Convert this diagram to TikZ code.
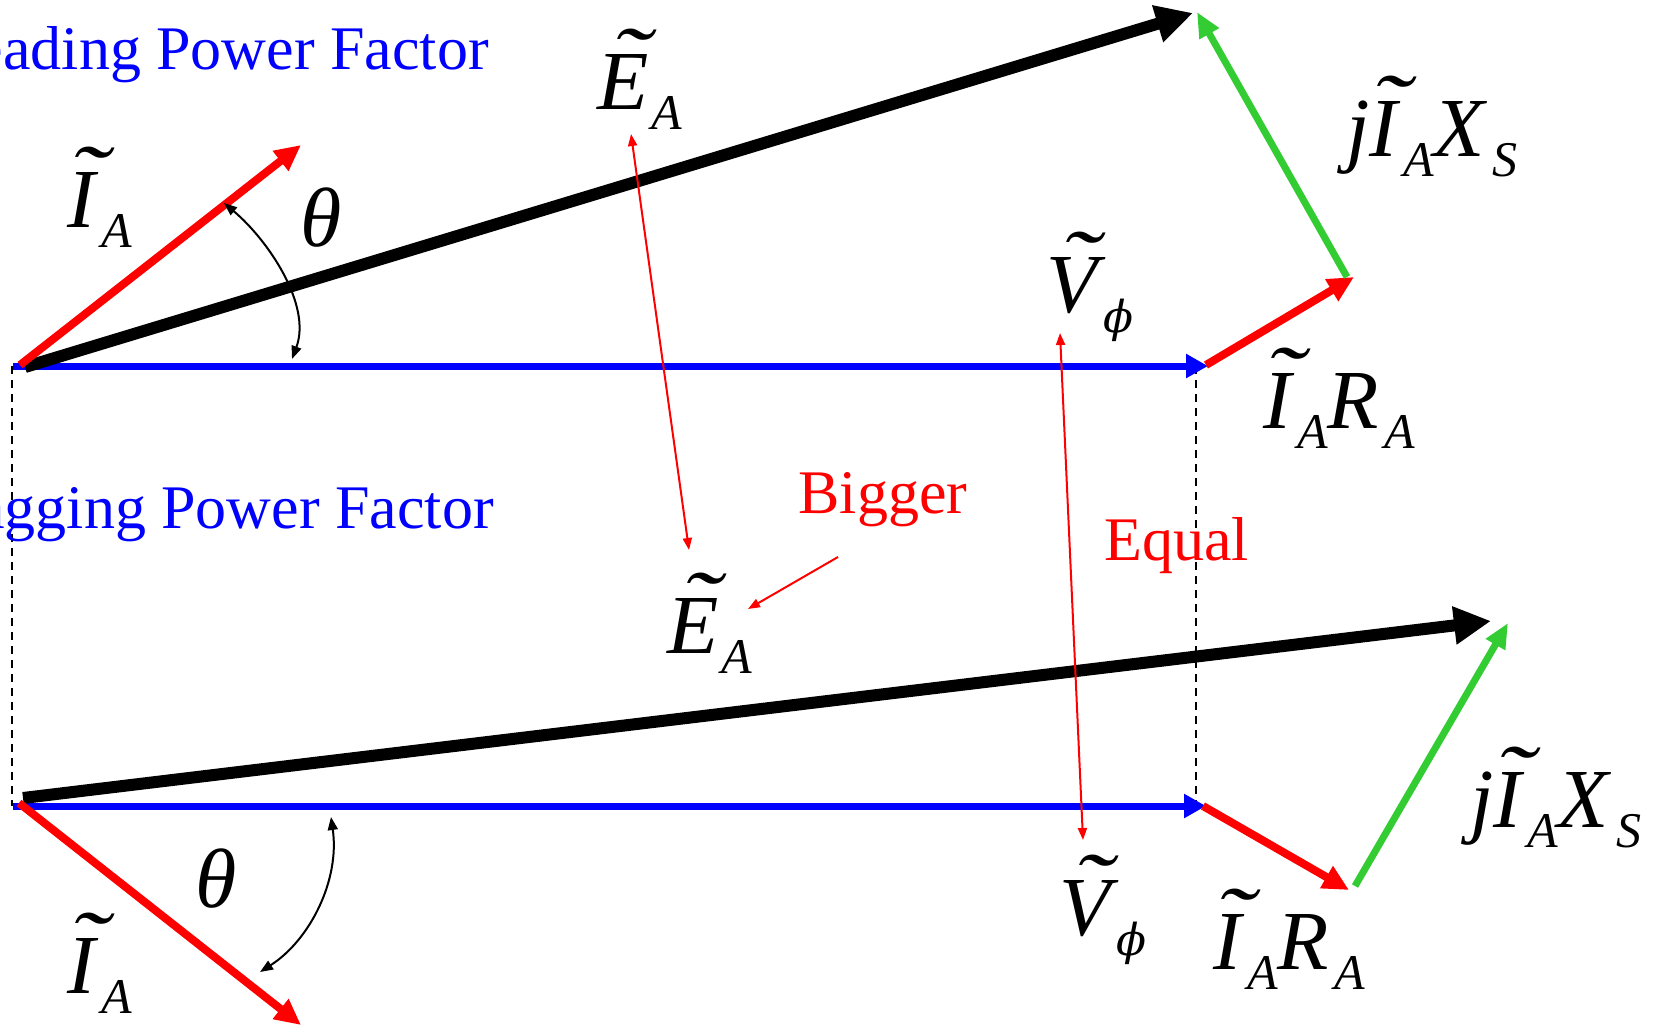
\documentclass[tikz,border=0pt]{standalone}
\usepackage{fontspec}
\usepackage{graphicx}
\setmainfont{Liberation Serif}
\newfontfamily\phifont{DejaVu Serif}
\usetikzlibrary{arrows.meta}
\definecolor{vblue}{RGB}{0,0,255}
\definecolor{vred}{RGB}{255,0,0}
\definecolor{vgreen}{RGB}{51,204,51}
\newcommand\tld[1]{\ooalign{#1\cr\hidewidth\kern0.16em\raisebox{0.25em}{\scalebox{1.4}[1.05]{\char"02DC}}\hidewidth\cr}}
\newcommand\sbs[1]{\kern0.07em\raisebox{-0.24em}{\fontsize{50}{50}\selectfont #1}}
\tikzset{
  mathlbl/.style={inner sep=0pt, anchor=base west, font=\fontsize{84}{84}\selectfont\itshape},
  txtlbl/.style={inner sep=0pt, font=\fontsize{62}{62}\selectfont},
  vvec/.style={draw=vblue, line width=7pt, -{Triangle[length=22pt,width=23pt]}},
  evec/.style={draw=black, line width=12pt, -{Triangle[length=37pt,width=36pt]}},
  ivec/.style={draw=vred, line width=8pt, -{Triangle[length=26pt,width=24pt]}},
  xvec/.style={draw=vgreen, line width=7pt, -{Triangle[length=25pt,width=21pt]}},
  note/.style={draw=vred, line width=2pt, {Triangle[length=12pt,width=9pt]}-{Triangle[length=12pt,width=9pt]}},
  noteone/.style={draw=vred, line width=2pt, -{Triangle[length=12pt,width=9pt]}},
  angarc/.style={draw=black, line width=2pt, {Triangle[length=13pt,width=10pt]}-{Triangle[length=13pt,width=10pt]}},
  proj/.style={draw=black, line width=2pt, dash pattern=on 8pt off 6pt}
}
\begin{document}
\begin{tikzpicture}[x=1pt,y=-1pt]
\useasboundingbox (0,0) rectangle (1657,1026);
% ---------- upper (leading) diagram ----------
\coordinate (O1) at (13,366);
\coordinate (V1) at (1208,366);
\coordinate (E1s) at (25,367);
\coordinate (E1) at (1193,13);
\coordinate (I1s) at (20,365);
\coordinate (I1) at (301,145);
\coordinate (R1s) at (1206,365);
\coordinate (R1) at (1354,277);
\coordinate (X1s) at (1347,277);
\coordinate (X1) at (1197,12);
\coordinate (A1s) at (224,203);
\coordinate (A1e) at (292,359);
% ---------- lower (lagging) diagram ----------
\coordinate (O2) at (13,806);
\coordinate (V2) at (1206,806);
\coordinate (E2s) at (23,798);
\coordinate (E2) at (1491,621);
\coordinate (I2s) at (19,803);
\coordinate (I2) at (301,1025);
\coordinate (R2s) at (1203,806);
\coordinate (R2) at (1349,890);
\coordinate (X2s) at (1355,886);
\coordinate (X2) at (1508,623);
\coordinate (A2s) at (331,817);
\coordinate (A2e) at (260,972);
% ---------- projections and notes ----------
\coordinate (D1t) at (12,366);
\coordinate (D1b) at (12,806);
\coordinate (D2t) at (1196,366);
\coordinate (D2b) at (1196,806);
\coordinate (EaT) at (631,134);
\coordinate (EaB) at (689,550);
\coordinate (VaT) at (1060,333);
\coordinate (VaB) at (1083,840);
\coordinate (Bs) at (838,557);
\coordinate (Be) at (748,609);

\draw[proj] (D1t) -- (D1b);
\draw[proj] (D2t) -- (D2b);

\draw[vvec] (O1) -- (V1);
\draw[evec] (E1s) -- (E1);
\draw[ivec] (I1s) -- (I1);
\draw[ivec] (R1s) -- (R1);
\draw[xvec] (X1s) -- (X1);
\draw[angarc] (A1s) .. controls (268,240) and (312,305) .. (A1e);

\draw[vvec] (O2) -- (V2);
\draw[evec] (E2s) -- (E2);
\draw[ivec] (I2s) -- (I2);
\draw[ivec] (R2s) -- (R2);
\draw[xvec] (X2s) -- (X2);
\draw[angarc] (A2s) .. controls (340,880) and (310,940) .. (A2e);

\draw[note] (EaT) -- (EaB);
\draw[note] (VaT) -- (VaB);
\draw[noteone] (Bs) -- (Be);

% ---------- labels ----------
\node[txtlbl, text=vblue, anchor=base east] (lead) at (489,69) {Leading Power Factor};
\node[txtlbl, text=vblue, anchor=base east] (lag) at (494,528) {Lagging Power Factor};
\node[txtlbl, text=vred, anchor=base] (big) at (883,513) {Bigger};
\node[txtlbl, text=vred, anchor=base west] (eq) at (1104,560) {Equal};

\node[mathlbl] (IA1) at (67,227) {\tld{I}\sbs{A}};
\node[mathlbl] (th1) at (300,246) {θ};
\node[mathlbl] (EA1) at (597,109) {\tld{E}\kern-0.04em\sbs{A}};
\node[mathlbl] (VP1) at (1046,312) {\tld{V}\sbs{\fontsize{44}{44}\phifont\itshape ϕ}};
\node[mathlbl] (IR1) at (1263,428) {\tld{I}\sbs{A}R\sbs{A}};
\node[mathlbl] (JX1) at (1346,156) {j\tld{I}\sbs{A}X\kern0.02em\sbs{S}};

\node[mathlbl] (IA2) at (67,993) {\tld{I}\sbs{A}};
\node[mathlbl] (th2) at (195,907) {θ};
\node[mathlbl] (EA2) at (667,653) {\tld{E}\kern-0.04em\sbs{A}};
\node[mathlbl] (VP2) at (1059,935) {\tld{V}\sbs{\fontsize{44}{44}\phifont\itshape ϕ}};
\node[mathlbl] (IR2) at (1213,969) {\tld{I}\sbs{A}R\sbs{A}};
\node[mathlbl] (JX2) at (1470,827) {j\tld{I}\sbs{A}X\kern0.02em\sbs{S}};
\end{tikzpicture}
\end{document}
